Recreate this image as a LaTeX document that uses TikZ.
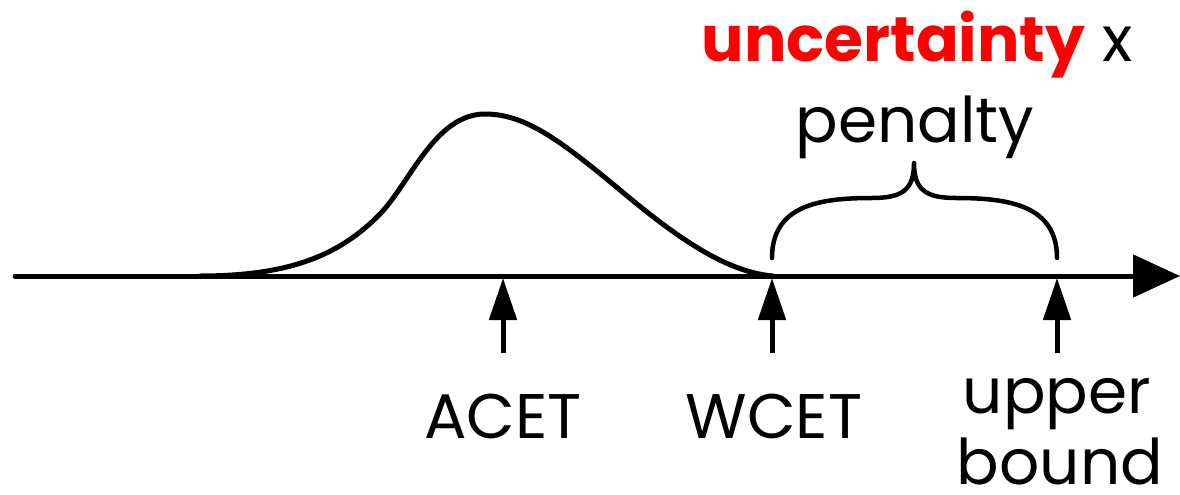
\documentclass[tikz,border=0pt]{standalone}
\usepackage{fontspec}
\setmainfont{Poppins}
\usetikzlibrary{arrows.meta}
\definecolor{hotred}{RGB}{255,0,0}
\begin{document}
\begin{tikzpicture}[x=1pt,y=-1pt,
  lbl/.style={inner sep=0pt,anchor=base,font=\fontsize{63}{70}\selectfont},
  axisline/.style={line width=5pt,line cap=round,-{Triangle[length=47pt,width=42pt]}},
  marker/.style={line width=5pt,-{Triangle[length=42pt,width=27pt]}},
  curveline/.style={line width=5pt,line join=round,line cap=round},
  bracestyle/.style={line width=4.5pt,line cap=round,line join=round}]
\useasboundingbox (0,0) rectangle (1180,495);
% axis
\coordinate (axL) at (15,276);
\coordinate (axR) at (1180,276);
\draw[axisline] (axL) -- (axR);
% distribution curve
\coordinate (cS) at (200,276);
\coordinate (cE) at (773,276);
\draw[curveline] (cS) .. controls (290,276) and (340,255) .. (380,214)
  .. controls (410,183) and (435,114) .. (485,114)
  .. controls (525,114) and (560,140) .. (620,190)
  .. controls (675,236) and (725,272) .. (cE);
% brace
\draw[bracestyle] (772,258) .. controls (772,205) and (820,198) .. (872,198)
  .. controls (902,198) and (914,190) .. (914,163)
  .. controls (914,190) and (926,198) .. (956,198)
  .. controls (1008,198) and (1057,205) .. (1057,258);
% markers
\coordinate (aTop) at (503,278);
\coordinate (aBot) at (503,353);
\coordinate (wTop) at (772,278);
\coordinate (wBot) at (772,353);
\coordinate (uTop) at (1057,278);
\coordinate (uBot) at (1057,353);
\draw[marker] (aBot) -- (aTop);
\draw[marker] (wBot) -- (wTop);
\draw[marker] (uBot) -- (uTop);
% labels
\node[lbl] (acet) at (503,438) {ACET};
\node[lbl] (wcet) at (774,438) {WCET};
\node[lbl] (upper) at (1057,413) {upper};
\node[lbl] (bound) at (1060,484) {bound};
\node[lbl] (pen) at (915,142) {penalty};
\node[lbl] (unc) at (917,62) {\textcolor{hotred}{\bfseries uncertainty} x};
\end{tikzpicture}
\end{document}
